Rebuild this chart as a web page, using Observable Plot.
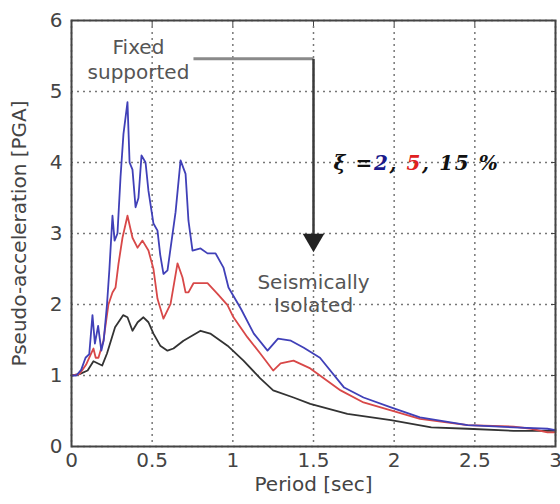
<!DOCTYPE html>
<html><head><meta charset="utf-8">
<script src="https://cdn.jsdelivr.net/npm/d3@7"></script>
<script src="https://cdn.jsdelivr.net/npm/@observablehq/plot@0.6"></script>
<style>
body{margin:0;background:#fff;}
#chart svg{display:block;}
</style></head><body><div id="chart"></div>
<script>
// ---- tick labels ----
const xTicks = [0, 0.5, 1, 1.5, 2, 2.5, 3];
const yTicks = [0, 1, 2, 3, 4, 5, 6];

// ---- series: damping 2 % (blue) ----
const periodBlue = [0,0.03,0.06,0.087,0.11,0.13,0.145,0.165,0.185,0.2,0.22,0.235,0.254,0.267,0.285,0.304,0.322,0.347,0.36,0.378,0.397,0.415,0.434,0.459,0.477,0.508,0.533,0.55,0.57,0.595,0.645,0.676,0.707,0.725,0.75,0.8,0.843,0.893,0.942,0.973,1.05,1.13,1.215,1.28,1.36,1.44,1.54,1.69,1.81,1.98,2.16,2.455,2.74,2.95,3.0];
const psaBlue    = [1.0,1.0,1.08,1.25,1.3,1.85,1.45,1.7,1.35,1.5,2.0,2.5,3.25,2.9,3.0,3.8,4.4,4.85,4.0,3.9,3.37,3.5,4.1,4.0,3.6,3.14,3.04,2.7,2.43,2.48,3.3,4.03,3.84,3.18,2.76,2.79,2.72,2.72,2.52,2.24,1.94,1.59,1.35,1.52,1.49,1.39,1.25,0.83,0.69,0.55,0.41,0.30,0.27,0.25,0.23];

// ---- series: damping 5 % (red) ----
const periodRed = [0,0.05,0.09,0.12,0.136,0.15,0.167,0.198,0.229,0.254,0.273,0.291,0.316,0.347,0.378,0.409,0.44,0.477,0.508,0.533,0.57,0.614,0.657,0.688,0.707,0.725,0.756,0.843,0.905,0.967,1.004,1.09,1.17,1.25,1.296,1.376,1.48,1.668,1.81,1.98,2.16,2.455,2.74,2.85,2.95,3.0];
const psaRed    = [1.0,1.02,1.15,1.3,1.38,1.25,1.25,1.49,2.0,2.17,2.24,2.57,2.94,3.25,2.94,2.8,2.9,2.76,2.5,2.08,1.8,2.01,2.58,2.38,2.17,2.17,2.3,2.3,2.15,1.99,1.82,1.54,1.31,1.07,1.17,1.21,1.1,0.79,0.62,0.51,0.39,0.30,0.28,0.25,0.2,0.2];

// ---- series: damping 15 % (black) ----
const periodBlack = [0,0.05,0.1,0.136,0.19,0.22,0.27,0.32,0.347,0.378,0.41,0.446,0.477,0.508,0.55,0.595,0.632,0.694,0.8,0.86,0.967,1.066,1.17,1.25,1.376,1.48,1.71,1.98,2.23,2.455,2.74,3.0];
const psaBlack    = [1.0,1.02,1.07,1.2,1.14,1.31,1.68,1.85,1.82,1.63,1.75,1.82,1.75,1.59,1.42,1.35,1.38,1.49,1.63,1.59,1.42,1.21,0.96,0.79,0.69,0.60,0.46,0.37,0.27,0.25,0.22,0.22];

const seriesNames  = ["15 %", "5 %", "2 %"];
const seriesColors = ["#333333", "#d84848", "#4040b8"];
const seriesPeriods = [periodBlack, periodRed, periodBlue];
const seriesValues  = [psaBlack, psaRed, psaBlue];

// ---- annotations ----
const fixedLabel = [{T: 0.415, v: 5.62, text: "Fixed"}, {T: 0.415, v: 5.27, text: "supported"}];
const isolatedLabel = [{T: 1.5, v: 2.31, text: "Seismically"}, {T: 1.5, v: 1.99, text: "Isolated"}];
const leaderH = [{T1: 0.756, T2: 1.5, v1: 5.46, v2: 5.46}];
const leaderV = [{T1: 1.5, T2: 1.5, v1: 5.46, v2: 2.97}];
const arrowHead = [{T: 1.5, v: 2.91}];
const xiLabel = [{T: 1.624, v: 3.99, text: "ξ =2, 5, 15 %"}];
const xiParts  = ["ξ =", "2", ", ", "5", ", 15 %"];
const xiColors = ["#111", "#1a1a8c", "#111", "#e02020", "#111"];

const rows = seriesNames.flatMap((name, k) =>
  seriesPeriods[k].map((t, i) => ({series: name, T: t, v: seriesValues[k][i]})));

const txt = "#444";
const fmt = d => `${d}`;
const chart = Plot.plot({
  width: 560, height: 504,
  marginLeft: 71, marginRight: 5, marginTop: 20, marginBottom: 58,
  style: {fontFamily: "DejaVu Sans", fontSize: "20px", color: txt, background: "#fff"},
  x: {domain: [0, 3]},
  y: {domain: [0, 6]},
  color: {domain: seriesNames, range: seriesColors},
  marks: [
    Plot.gridX(xTicks, {stroke: "#555", strokeOpacity: 0.8, strokeDasharray: "2,4", strokeWidth: 1.5}),
    Plot.gridY(yTicks, {stroke: "#555", strokeOpacity: 0.8, strokeDasharray: "2,4", strokeWidth: 1.5}),
    Plot.line(rows, {x: "T", y: "v", z: "series", stroke: "series", strokeWidth: 1.8, strokeLinejoin: "round"}),
    Plot.frame({stroke: "#444", strokeWidth: 2}),
    Plot.axisX(xTicks, {anchor: "top", tickSize: -5, tickFormat: () => "", label: null, stroke: "#444"}),
    Plot.axisY(yTicks, {anchor: "right", tickSize: -5, tickFormat: () => "", label: null, stroke: "#444"}),
    Plot.axisX(xTicks, {tickSize: 0, tickPadding: 6, tickFormat: fmt, label: null, fill: txt, fontSize: 20}),
    Plot.axisY(yTicks, {tickSize: 0, tickPadding: 9, tickFormat: fmt, label: null, fill: txt, fontSize: 20}),
    Plot.text(["Period [sec]"], {frameAnchor: "bottom", dy: 44, fill: txt, fontSize: 20}),
    Plot.text(["Pseudo-acceleration [PGA]"], {frameAnchor: "left", textAnchor: "middle", dx: -52, rotate: -90, fill: txt, fontSize: 20}),
    Plot.text(fixedLabel, {x: "T", y: "v", text: "text", fill: "#555", fontSize: 20}),
    Plot.text(isolatedLabel, {x: "T", y: "v", text: "text", fill: "#555", fontSize: 20}),
    Plot.link(leaderH, {x1: "T1", x2: "T2", y1: "v1", y2: "v2", stroke: "#8a8a8a", strokeWidth: 3}),
    Plot.link(leaderV, {x1: "T1", x2: "T2", y1: "v1", y2: "v2", stroke: "#3a3a3a", strokeWidth: 2.5}),
    Plot.dot(arrowHead, {x: "T", y: "v", symbol: "triangle", rotate: 180, r: 8, fill: "#222", stroke: "none"}),
    Plot.text(xiLabel, {x: "T", y: "v", text: "text", textAnchor: "start", fontFamily: "DejaVu Serif", fontStyle: "italic", fontWeight: "bold", fontSize: 20, fill: "#111"})
  ]
});

d3.select(chart).selectAll("text").filter(function() { return this.textContent === xiLabel[0].text; })
  .each(function() {
    const t = d3.select(this);
    t.text("").attr("letter-spacing", "1.6px");
    xiParts.forEach((s, i) => t.append("tspan").attr("fill", xiColors[i]).text(s));
  });

document.getElementById("chart").appendChild(chart);
</script></body></html>
